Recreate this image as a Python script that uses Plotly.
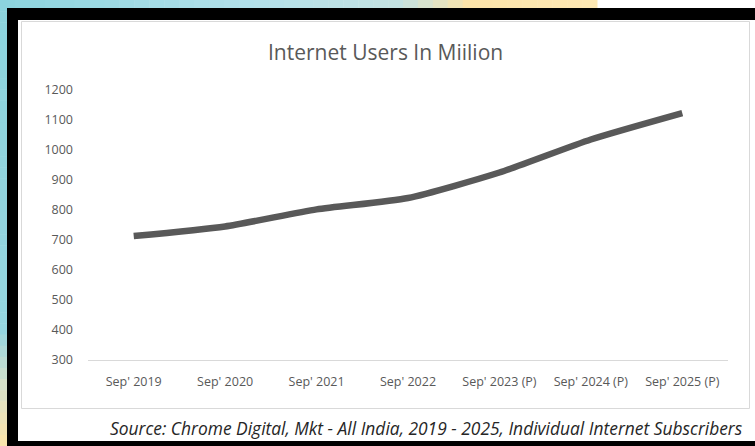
import plotly.graph_objects as go

categories = ["Sep' 2019", "Sep' 2020", "Sep' 2021", "Sep' 2022",
              "Sep' 2023 (P)", "Sep' 2024 (P)", "Sep' 2025 (P)"]
users_million = [713, 745, 802, 840, 925, 1035, 1123]
y_ticks = [300, 400, 500, 600, 700, 800, 900, 1000, 1100, 1200]

W, H = 755, 446
L, R, T, B = 88, 27, 90, 86
PW, PH = W - L - R, H - T - B


def px(x):
    return (x - L) / PW


def py(y):
    return (H - B - y) / PH


def rect(x0, y0, x1, y1, fill=None, line=None, lw=0):
    return dict(type="rect", xref="paper", yref="paper",
                x0=px(x0), x1=px(x1), y0=py(y1), y1=py(y0),
                fillcolor=fill if fill else "rgba(0,0,0,0)",
                line=dict(color=line if line else "rgba(0,0,0,0)", width=lw),
                layer="below")


def lerp(c1, c2, t):
    return "rgb(%d,%d,%d)" % tuple(round(a + (b - a) * t) for a, b in zip(c1, c2))


shapes = []
# top gradient strip
stops = [(0, (140, 212, 222)), (250, (178, 224, 234)), (400, (196, 226, 226)),
         (470, (252, 228, 170)), (597, (253, 232, 180))]
n = 40
for i in range(n):
    x0 = 597 * i / n
    x1 = 597 * (i + 1) / n
    xm = (x0 + x1) / 2
    for (a, ca), (b, cb) in zip(stops[:-1], stops[1:]):
        if a <= xm <= b:
            c = lerp(ca, cb, (xm - a) / (b - a))
            break
    shapes.append(rect(x0, 0, x1 + 0.5, 9, fill=c))
# left gradient strip
lstops = [(0, (140, 212, 222)), (330, (150, 214, 224)), (390, (220, 226, 200)),
          (446, (252, 228, 170))]
for i in range(n):
    y0 = 446 * i / n
    y1 = 446 * (i + 1) / n
    ym = (y0 + y1) / 2
    for (a, ca), (b, cb) in zip(lstops[:-1], lstops[1:]):
        if a <= ym <= b:
            c = lerp(ca, cb, (ym - a) / (b - a))
            break
    shapes.append(rect(0, y0, 8, y1 + 0.5, fill=c))
# black frame
shapes.append(rect(7, 8, W + 2, H + 2, fill="black"))
# white inner area
shapes.append(rect(18, 20, W + 2, 441, fill="white"))
# chart panel border
shapes.append(rect(21.5, 21.5, 749.5, 408.5, line="#d9d9d9", lw=1))

fig = go.Figure()
fig.add_trace(go.Scatter(
    x=categories, y=users_million, mode="lines",
    line=dict(color="#595959", width=6.5, shape="spline", smoothing=0.6),
    hoverinfo="skip", showlegend=False))

fig.update_layout(
    width=W, height=H,
    margin=dict(l=L, r=R, t=T, b=B),
    paper_bgcolor="white", plot_bgcolor="rgba(0,0,0,0)",
    shapes=shapes,
    font=dict(family="Open Sans", color="#595959"),
    xaxis=dict(type="category", range=[-0.5, 6.5], showgrid=False,
               showline=True, linecolor="#d9d9d9", linewidth=1,
               ticks="", tickfont=dict(size=12.5, color="#595959"),
               ticklabelstandoff=10, zeroline=False),
    yaxis=dict(range=[300, 1200], tickvals=y_ticks, showgrid=False,
               showline=False, zeroline=False, ticks="",
               tickfont=dict(size=12.5, color="#595959"),
               ticklabelstandoff=14),
    annotations=[
        dict(text="Internet Users In Miilion", xref="paper", yref="paper",
             x=px(385), y=py(52), xanchor="center", yanchor="middle",
             showarrow=False,
             font=dict(size=21, color="#595959", family="Open Sans")),
        dict(text="<i>Source: Chrome Digital, Mkt - All India, 2019 - 2025, Individual Internet Subscribers</i>",
             xref="paper", yref="paper", x=px(745), y=py(428),
             xanchor="right", yanchor="middle", showarrow=False,
             font=dict(size=17.4, color="#262626", family="Open Sans")),
    ],
)

fig.write_html("out.html")
